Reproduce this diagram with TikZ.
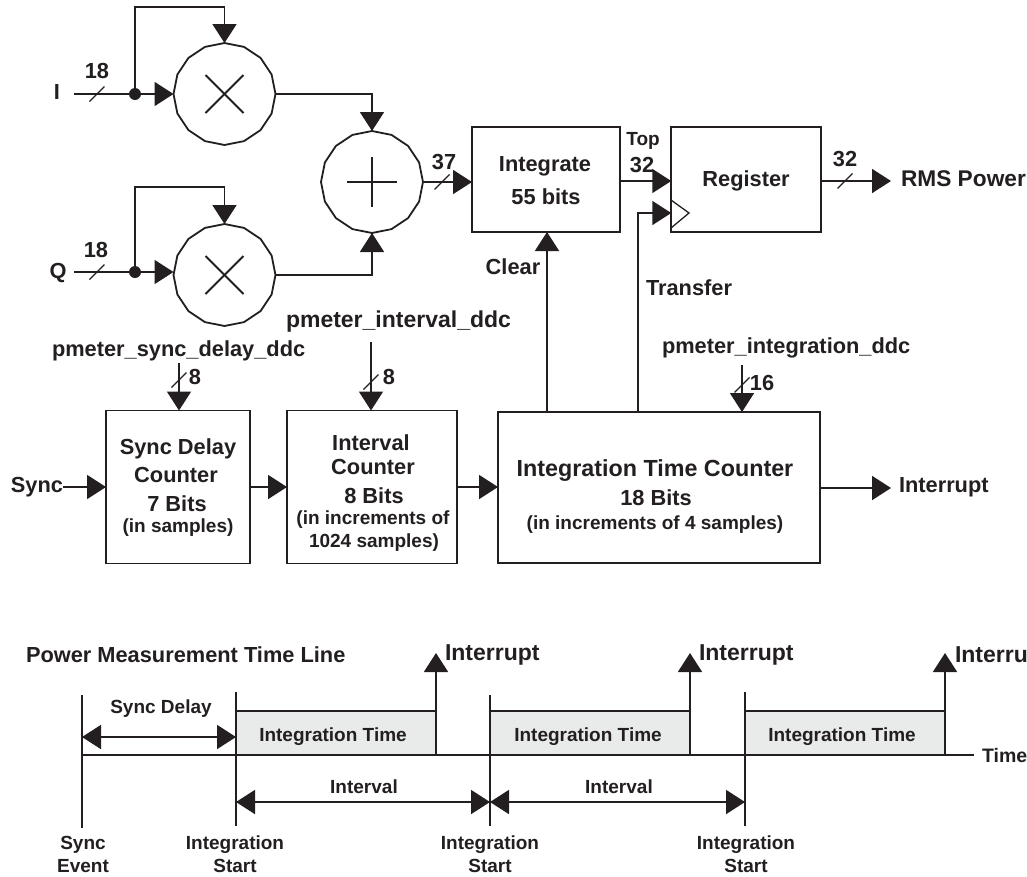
\documentclass[tikz,border=0pt]{standalone}
\usepackage{fontspec}
\setmainfont{Liberation Sans}
\usetikzlibrary{arrows.meta,shapes.geometric}
\definecolor{ink}{HTML}{231F20}
\definecolor{bargrey}{HTML}{E9EBEA}
\tikzset{
  x=1pt,y=-1pt,
  every node/.style={text=ink,inner sep=0pt,outer sep=0pt},
  wire/.style={draw=ink,line width=1.8pt},
  arr/.style={wire,-{Triangle[length=19pt,width=24pt]}},
  darr/.style={wire,{Triangle[length=19pt,width=24pt]}-{Triangle[length=19pt,width=24pt]}},
  slashmark/.style={draw=ink,line width=1.3pt},
  opcircle/.style={regular polygon,regular polygon sides=16,shape border rotate=11.25,draw=ink,line width=1.8pt,minimum size=102pt,fill=white},
  box/.style={rectangle,draw=ink,line width=1.8pt,fill=white},
  lab/.style={font=\bfseries\fontsize{21.8}{24}\selectfont,align=center},
  big/.style={font=\bfseries\fontsize{23}{26}\selectfont,align=center},
  lit/.style={font=\bfseries\fontsize{19}{22}\selectfont,align=center},
  tl/.style={font=\bfseries\fontsize{19}{23}\selectfont,align=center},
  bar/.style={rectangle,draw=ink,line width=1.8pt,fill=bargrey,minimum width=200pt,minimum height=44pt},
}
\newcommand{\busmark}[1]{\draw[slashmark] ([shift={(-7.5,7.5)}]#1) -- ([shift={(7.5,-7.5)}]#1);}
\begin{document}
\begin{tikzpicture}
\useasboundingbox (0,0) rectangle (1027,876);
% operators
\node[opcircle] (m1) at (224.5,94) {};
\node[opcircle] (m2) at (224.5,275) {};
\node[opcircle] (add) at (372,182) {};
\draw[wire] ([shift={(-19,-19)}]m1.center) -- ([shift={(19,19)}]m1.center);
\draw[wire] ([shift={(-19,19)}]m1.center) -- ([shift={(19,-19)}]m1.center);
\draw[wire] ([shift={(-19,-19)}]m2.center) -- ([shift={(19,19)}]m2.center);
\draw[wire] ([shift={(-19,19)}]m2.center) -- ([shift={(19,-19)}]m2.center);
\draw[wire] ([shift={(-25,0)}]add.center) -- ([shift={(25,0)}]add.center);
\draw[wire] ([shift={(0,-25)}]add.center) -- ([shift={(0,25)}]add.center);
% boxes
\node[box,minimum width=148pt,minimum height=105pt] (int) at (546,179.5) {};
\node[box,minimum width=149.5pt,minimum height=105pt] (reg) at (746,179.5) {};
\node[box,minimum width=144pt,minimum height=153pt] (sd) at (178,487) {};
\node[box,minimum width=170pt,minimum height=153pt] (iv) at (372,487) {};
\node[box,minimum width=322pt,minimum height=151pt] (itc) at (659,487.5) {};
% box texts
\node[lab] (tint) at (545,166) {Integrate};
\node[lab] (tint2) at (546,197) {55 bits};
\node[lab] (treg) at (746,181) {Register};
\node[lab] (sd1) at (178,449) {Sync Delay};
\node[lab] (sd2) at (176,475) {Counter};
\node[lab] (sd3) at (177,504) {7 Bits};
\node[lit] (sd4) at (178,528) {(in samples)};
\node[lab] (iv1) at (371,443) {Interval};
\node[lab] (iv2) at (373,467) {Counter};
\node[lab] (iv3) at (374,496) {8 Bits};
\node[lit] (iv4) at (373,520) {(in increments of};
\node[lit] (iv5) at (374,543) {1024 samples)};
\node[font=\bfseries\fontsize{23.3}{26}\selectfont] (it1) at (655,471) {Integration Time Counter};
\node[lab] (it2) at (656,498) {18 Bits};
\node[lit] (it3) at (655,525) {(in increments of 4 samples)};
% inputs
\node[lab] (lI) at (57,92) {I};
\node[lab] (lQ) at (58,273) {Q};
\coordinate (iin) at (74,94);
\coordinate (qin) at (74,272);
\coordinate (idot) at (135,94);
\coordinate (qdot) at (135,272);
\coordinate (itop) at (135,7);
\coordinate (qtop) at (135,187);
\fill[ink] (idot) circle (6pt);
\fill[ink] (qdot) circle (6pt);
\draw[arr] (iin) -- (m1.west);
\draw[arr] (qin) -- (m2.west |- qin);
\draw[arr] (idot) -- (itop) -| (m1.north);
\draw[arr] (qdot) -- (qtop) -| (m2.north);
\coordinate (s1) at (97,94); \busmark{s1}
\coordinate (s2) at (97,272); \busmark{s2}
\node[lab] (n18a) at (97,71) {18};
\node[lab] (n18b) at (96,250) {18};
% mult to adder
\draw[arr] (m1.east) -| (add.north);
\draw[arr] (m2.east) -| (add.south);
% adder to integrate
\draw[arr] (add.east) -- (add.east -| int.west);
\coordinate (s3) at (442,182); \busmark{s3}
\node[lab] (n37) at (444,162) {37};
% integrate to register
\coordinate (ir) at (620,181);
\draw[arr] (ir) -- (ir -| reg.west);
\node[lit] (ltop) at (643,141) {Top};
\node[lab] (l32a) at (642,165) {32};
% clock
\coordinate (c1) at (671,200);
\coordinate (c2) at (689,213);
\coordinate (c3) at (671,228);
\draw[draw=ink,line width=1.3pt] (c1) -- (c2) -- (c3);
% register out
\coordinate (rout) at (891,181);
\draw[arr] (ir -| reg.east) -- (rout);
\coordinate (s4) at (845,181); \busmark{s4}
\node[lab] (l32b) at (845,159) {32};
\node[font=\bfseries\fontsize{22.7}{25}\selectfont,anchor=west] (lrms) at (901,179) {RMS Power};
% clear, transfer
\coordinate (cl) at (547,300);
\draw[arr] (itc.north -| cl) -- (int.south -| cl);
\node[lab] (lclear) at (513,267) {Clear};
\coordinate (tr) at (638,213);
\draw[arr] (itc.north -| tr) -- (tr) -- (tr -| reg.west);
\node[lab,anchor=west] (ltrans) at (646,288) {Transfer};
% control inputs
\node[lab,anchor=west] (pi) at (662,348) {pmeter\_integration\_ddc};
\coordinate (pit) at (742,365);
\draw[arr] (pit) -- (pit |- itc.north);
\coordinate (s5) at (742,385); \busmark{s5}
\node[lab] (l16) at (762,383) {16};
\node[lab,anchor=west] (ps) at (52,351) {pmeter\_sync\_delay\_ddc};
\coordinate (pst) at (179,363);
\draw[arr] (pst) -- (pst |- sd.north);
\coordinate (s6) at (179,380); \busmark{s6}
\node[lab] (l8a) at (195,377) {8};
\node[big,anchor=west] (pv) at (286,322) {pmeter\_interval\_ddc};
\coordinate (pvt) at (371,342);
\draw[arr] (pvt) -- (pvt |- iv.north);
\coordinate (s7) at (371,382); \busmark{s7}
\node[lab] (l8b) at (389,377) {8};
% chain
\node[lab] (lsync) at (37,487) {Sync};
\draw[arr] (lsync.east) -- (lsync.east -| sd.west);
\draw[arr] (sd.east) -- (sd.east -| iv.west);
\draw[arr] (iv.east) -- (iv.east -| itc.west);
\coordinate (iout) at (891,488);
\draw[arr] (iout -| itc.east) -- (iout);
\node[lab,anchor=west] (lint) at (899,487) {Interrupt};
% timeline
\node[lab,anchor=west] (title) at (26,655) {Power Measurement Time Line};
\node[bar] (b1) at (336,733) {};
\node[bar] (b2) at (590,733) {};
\node[bar] (b3) at (845,733) {};
\node[tl] (bt1) at (333,737) {Integration Time};
\node[tl] (bt2) at (588,737) {Integration Time};
\node[tl] (bt3) at (842,737) {Integration Time};
\coordinate (v0t) at (82,695); \coordinate (v0b) at (82,828);
\coordinate (v1t) at (236,692); \coordinate (v1b) at (236,826);
\coordinate (v2t) at (490,695); \coordinate (v2b) at (490,826);
\coordinate (v3t) at (745,692); \coordinate (v3b) at (745,826);
\draw[wire] (v0t) -- (v0b);
\draw[wire] (v1t) -- (v1b);
\draw[wire] (v2t) -- (v2b);
\draw[wire] (v3t) -- (v3b);
\coordinate (tend) at (974,755);
\draw[wire] (tend -| v0t) -- (tend);
\node[font=\bfseries\fontsize{19.5}{23}\selectfont,anchor=west] (ltime) at (982,756) {Time};
\coordinate (a1) at (436,653);
\coordinate (a2) at (690,653);
\coordinate (a3) at (945,653);
\draw[arr] (b1.north east) -- (a1);
\draw[arr] (b2.north east) -- (a2);
\draw[arr] (b3.north east) -- (a3);
\node[big,anchor=west] (ia) at (445,655) {Interrupt};
\node[big,anchor=west] (ib) at (699,655) {Interrupt};
\node[big,anchor=west] (ic) at (955,655) {Interru};
\coordinate (d0) at (82,737); \coordinate (d1) at (236,737);
\draw[darr] (d0) -- (d1);
\node[tl] (lsd) at (161,709) {Sync Delay};
\coordinate (e1) at (236,802); \coordinate (e2) at (490,802); \coordinate (e3) at (745,802);
\draw[darr] (e1) -- (e2);
\draw[darr] (e2) -- (e3);
\node[tl] (liv1) at (364,787) {Interval};
\node[tl] (liv2) at (619,787) {Interval};
\node[tl] (ev) at (83,854) {Sync\\[0pt]Event};
\node[tl] (s1b) at (235,854) {Integration\\[0pt]Start};
\node[tl] (s2b) at (490,854) {Integration\\[0pt]Start};
\node[tl] (s3b) at (746,854) {Integration\\[0pt]Start};
\end{tikzpicture}
\end{document}
